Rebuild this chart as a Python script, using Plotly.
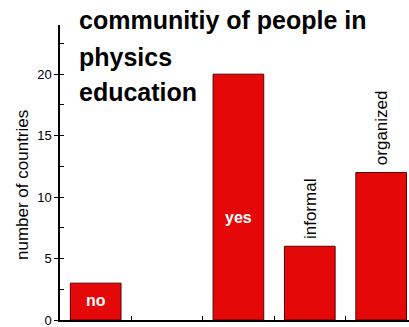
import plotly.graph_objects as go

categories = ["no", "gap", "yes", "informal", "organized"]
values = [3, None, 20, 6, 12]
title_lines = ["communitiy of people in", "physics", "education"]
y_title = "number of countries"
y_ticks = [0, 5, 10, 15, 20]

W, H = 409, 327
ML, MR, MT, MB = 60, 0, 25, 7
PW, PH = W - ML - MR, H - MT - MB

def px_x(x):
    return (x - ML) / PW

def px_y(y):
    return (H - MB - y) / PH

FONT = "Liberation Sans, Arial, Helvetica, sans-serif"

fig = go.Figure()
fig.add_trace(go.Bar(
    x=categories, y=values, width=0.71,
    marker=dict(color="rgb(228,8,8)", line=dict(color="rgb(90,0,0)", width=1)),
    hoverinfo="skip",
))

annotations = []
# title lines
for line, ypx in zip(title_lines, [20, 57, 92]):
    annotations.append(dict(
        text=f"<b>{line}</b>", xref="paper", yref="paper", x=px_x(77), y=px_y(ypx),
        xanchor="left", yanchor="middle", showarrow=False,
        font=dict(family=FONT, size=25, color="black")))
# y axis title
annotations.append(dict(
    text=y_title, xref="paper", yref="paper", x=px_x(22), y=px_y(185),
    xanchor="center", yanchor="middle", textangle=-90, showarrow=False,
    font=dict(family=FONT, size=17, color="black")))
# bar labels
annotations.append(dict(text="<b>no</b>", x="no", y=1.55, xref="x", yref="y",
                        showarrow=False, font=dict(family=FONT, size=16, color="white")))
annotations.append(dict(text="<b>yes</b>", x="yes", y=8.3, xref="x", yref="y",
                        showarrow=False, font=dict(family=FONT, size=16, color="white")))
for cat, v in [("informal", 6), ("organized", 12)]:
    annotations.append(dict(text=cat, x=cat, y=v, xref="x", yref="y", yanchor="bottom",
                            yshift=5, textangle=-90, showarrow=False,
                            font=dict(family=FONT, size=17, color="black")))

fig.update_layout(
    width=W, height=H,
    margin=dict(l=ML, r=MR, t=MT, b=MB, pad=0),
    plot_bgcolor="white", paper_bgcolor="white",
    showlegend=False,
    annotations=annotations,
    xaxis=dict(
        type="category", range=[-0.5, 4.39], showticklabels=False,
        showline=True, linecolor="black", linewidth=1.5,
        ticks="inside", ticklen=4, tickcolor="black", tickwidth=1,
        tickson="boundaries", showgrid=False, zeroline=False,
    ),
    yaxis=dict(
        range=[0, 24], tickvals=y_ticks, ticktext=[str(t) for t in y_ticks],
        showline=True, linecolor="black", linewidth=1.5,
        ticks="outside", ticklen=4, tickcolor="black", tickwidth=1.2,
        tickfont=dict(family=FONT, size=13, color="black"),
        ticklabeloverflow="allow",
        minor=dict(dtick=2.5, tick0=0, ticks="inside", ticklen=4, tickcolor="black", showgrid=False),
        showgrid=False, zeroline=False,
    ),
)

fig.write_html("out.html")
